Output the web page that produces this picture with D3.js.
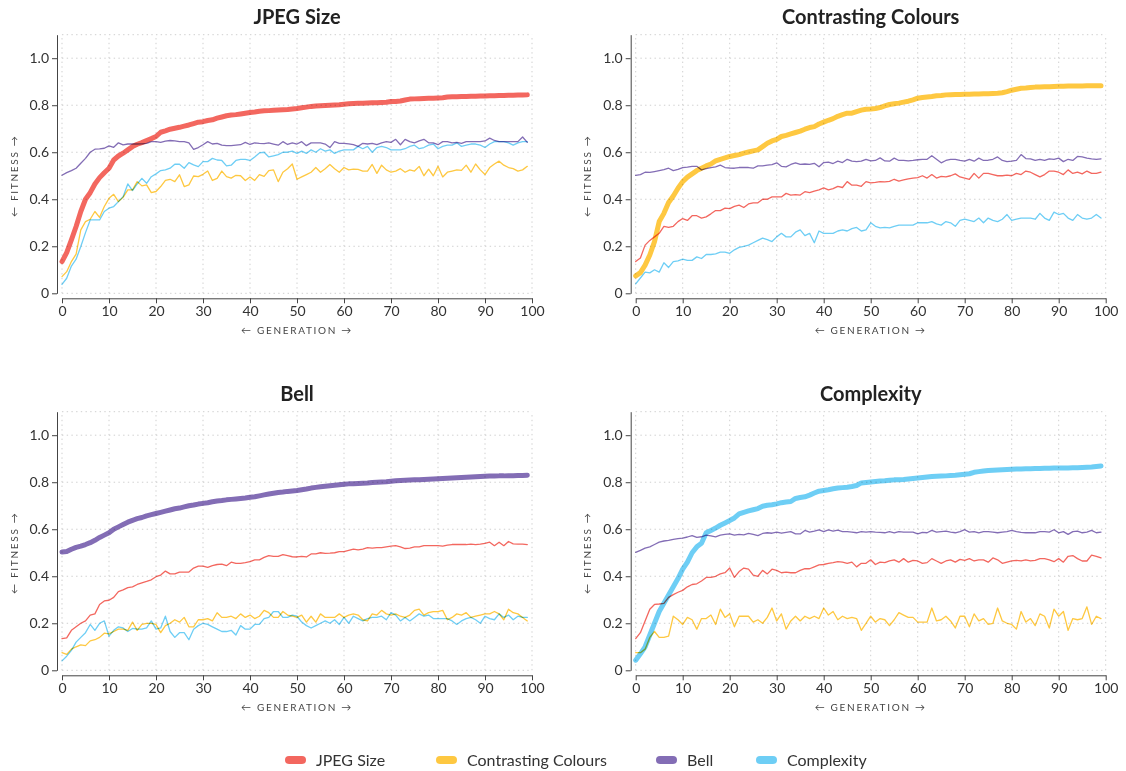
<!DOCTYPE html>
<html>
<head>
<meta charset="utf-8">
<script src="https://cdn.jsdelivr.net/npm/d3@7"></script>
<style>
  body { margin: 0; background: #fff; }
  svg { display: block; font-family: Lato, "Noto Sans", sans-serif; }
</style>
</head>
<body>
<svg id="chart" width="1126" height="771"></svg>
<script>
// Fitness per generation (0..99) for each of the four metrics, one panel per optimised objective.

// Run optimising JPEG Size
const jpegRunJpeg = [
  0.135,0.173,0.227,0.284,0.348,0.40,0.428,0.465,0.492,0.513,
  0.532,0.567,0.584,0.596,0.61,0.624,0.634,0.641,0.65,0.658,
  0.667,0.685,0.691,0.698,0.702,0.706,0.711,0.716,0.722,0.728,
  0.73,0.735,0.738,0.745,0.75,0.755,0.758,0.76,0.763,0.766,
  0.769,0.771,0.774,0.776,0.777,0.779,0.78,0.781,0.782,0.784,
  0.786,0.789,0.792,0.795,0.797,0.798,0.799,0.8,0.801,0.802,
  0.804,0.806,0.807,0.808,0.808,0.809,0.81,0.811,0.812,0.813,
  0.816,0.816,0.818,0.822,0.826,0.827,0.828,0.829,0.83,0.83,
  0.831,0.832,0.835,0.836,0.836,0.837,0.837,0.838,0.838,0.839,
  0.839,0.84,0.84,0.841,0.841,0.842,0.842,0.843,0.843,0.844
];
const jpegRunContrast = [
  0.071,0.092,0.135,0.167,0.27,0.305,0.315,0.348,0.323,0.369,
  0.404,0.421,0.39,0.408,0.44,0.44,0.475,0.457,0.461,0.428,
  0.433,0.454,0.48,0.485,0.475,0.504,0.454,0.461,0.499,0.496,
  0.506,0.52,0.48,0.489,0.52,0.496,0.49,0.502,0.5,0.48,
  0.495,0.48,0.505,0.497,0.522,0.525,0.475,0.515,0.53,0.55,
  0.485,0.495,0.505,0.515,0.535,0.515,0.53,0.548,0.53,0.515,
  0.535,0.525,0.528,0.527,0.52,0.52,0.548,0.51,0.545,0.525,
  0.515,0.52,0.53,0.515,0.525,0.52,0.54,0.5,0.528,0.5,
  0.54,0.495,0.515,0.52,0.525,0.523,0.545,0.515,0.55,0.525,
  0.505,0.535,0.55,0.562,0.545,0.535,0.53,0.52,0.525,0.54
];
const jpegRunBell = [
  0.502,0.513,0.522,0.532,0.553,0.574,0.6,0.613,0.614,0.617,
  0.627,0.621,0.64,0.631,0.635,0.635,0.635,0.636,0.638,0.645,
  0.645,0.642,0.647,0.65,0.648,0.645,0.645,0.64,0.612,0.62,
  0.632,0.645,0.635,0.638,0.63,0.628,0.628,0.63,0.632,0.642,
  0.633,0.64,0.638,0.637,0.64,0.635,0.63,0.645,0.633,0.64,
  0.635,0.645,0.628,0.64,0.64,0.64,0.635,0.62,0.645,0.638,
  0.638,0.636,0.632,0.625,0.638,0.635,0.638,0.632,0.64,0.645,
  0.642,0.655,0.632,0.655,0.645,0.64,0.648,0.655,0.64,0.64,
  0.632,0.645,0.645,0.64,0.642,0.638,0.645,0.645,0.645,0.645,
  0.648,0.66,0.65,0.645,0.645,0.645,0.645,0.645,0.665,0.642
];
const jpegRunComplexity = [
  0.038,0.064,0.116,0.145,0.199,0.258,0.312,0.312,0.312,0.348,
  0.362,0.369,0.39,0.411,0.465,0.437,0.465,0.489,0.468,0.496,
  0.508,0.522,0.525,0.532,0.549,0.549,0.532,0.556,0.546,0.539,
  0.56,0.56,0.574,0.567,0.565,0.542,0.545,0.565,0.57,0.57,
  0.565,0.58,0.597,0.6,0.58,0.585,0.59,0.6,0.6,0.605,
  0.595,0.605,0.595,0.61,0.6,0.615,0.605,0.61,0.595,0.605,
  0.61,0.61,0.61,0.625,0.615,0.625,0.6,0.62,0.625,0.62,
  0.61,0.61,0.61,0.615,0.625,0.63,0.615,0.62,0.63,0.635,
  0.615,0.625,0.63,0.63,0.64,0.625,0.63,0.635,0.635,0.63,
  0.62,0.635,0.645,0.645,0.645,0.64,0.63,0.64,0.645,0.645
];

// Run optimising Contrasting Colours
const contrastRunJpeg = [
  0.135,0.15,0.205,0.225,0.24,0.255,0.285,0.28,0.285,0.305,
  0.318,0.31,0.33,0.33,0.32,0.325,0.338,0.352,0.352,0.362,
  0.36,0.37,0.375,0.365,0.38,0.385,0.385,0.4,0.4,0.41,
  0.41,0.41,0.425,0.418,0.42,0.418,0.432,0.428,0.435,0.44,
  0.448,0.44,0.445,0.455,0.45,0.475,0.46,0.46,0.455,0.475,
  0.47,0.472,0.475,0.474,0.476,0.485,0.477,0.482,0.487,0.49,
  0.492,0.5,0.49,0.505,0.49,0.497,0.495,0.5,0.508,0.495,
  0.49,0.485,0.51,0.49,0.51,0.51,0.505,0.5,0.5,0.503,
  0.5,0.51,0.505,0.52,0.515,0.505,0.495,0.505,0.52,0.52,
  0.515,0.505,0.525,0.51,0.515,0.508,0.52,0.51,0.51,0.515
];
const contrastRunContrast = [
  0.074,0.088,0.12,0.163,0.22,0.305,0.34,0.386,0.414,0.447,
  0.475,0.494,0.508,0.522,0.532,0.542,0.55,0.563,0.57,0.576,
  0.582,0.586,0.59,0.596,0.601,0.606,0.61,0.624,0.638,0.648,
  0.655,0.667,0.672,0.678,0.684,0.69,0.698,0.705,0.709,0.72,
  0.728,0.736,0.743,0.753,0.76,0.766,0.766,0.773,0.779,0.783,
  0.784,0.786,0.79,0.797,0.803,0.806,0.809,0.813,0.817,0.823,
  0.83,0.833,0.835,0.837,0.84,0.841,0.844,0.845,0.846,0.846,
  0.847,0.847,0.848,0.848,0.849,0.849,0.85,0.851,0.853,0.858,
  0.864,0.868,0.872,0.873,0.875,0.877,0.878,0.879,0.879,0.88,
  0.881,0.881,0.882,0.882,0.882,0.882,0.883,0.883,0.883,0.883
];
const contrastRunBell = [
  0.502,0.505,0.515,0.514,0.518,0.522,0.526,0.532,0.522,0.527,
  0.535,0.537,0.54,0.54,0.525,0.53,0.535,0.538,0.545,0.535,
  0.533,0.532,0.535,0.536,0.535,0.532,0.542,0.542,0.545,0.547,
  0.555,0.54,0.538,0.548,0.555,0.548,0.55,0.548,0.553,0.538,
  0.556,0.558,0.552,0.562,0.556,0.57,0.562,0.56,0.562,0.57,
  0.563,0.565,0.576,0.563,0.562,0.575,0.565,0.565,0.563,0.565,
  0.568,0.57,0.57,0.585,0.57,0.555,0.565,0.57,0.57,0.565,
  0.562,0.57,0.562,0.575,0.565,0.566,0.57,0.58,0.565,0.56,
  0.562,0.565,0.59,0.573,0.572,0.565,0.57,0.565,0.572,0.57,
  0.575,0.56,0.57,0.565,0.582,0.58,0.575,0.572,0.57,0.572
];
const contrastRunComplexity = [
  0.04,0.065,0.09,0.087,0.1,0.09,0.13,0.11,0.135,0.138,
  0.145,0.14,0.14,0.155,0.148,0.165,0.165,0.168,0.175,0.175,
  0.17,0.185,0.195,0.2,0.205,0.215,0.225,0.235,0.228,0.22,
  0.24,0.255,0.24,0.24,0.26,0.27,0.245,0.255,0.215,0.265,
  0.255,0.255,0.255,0.265,0.27,0.265,0.275,0.28,0.265,0.27,
  0.3,0.285,0.278,0.28,0.278,0.285,0.29,0.29,0.29,0.29,
  0.3,0.3,0.3,0.305,0.295,0.29,0.305,0.3,0.285,0.31,
  0.315,0.31,0.305,0.32,0.3,0.32,0.31,0.305,0.315,0.335,
  0.31,0.315,0.32,0.32,0.32,0.315,0.34,0.32,0.31,0.345,
  0.335,0.34,0.32,0.31,0.335,0.32,0.315,0.32,0.335,0.32
];

// Run optimising Bell
const bellRunJpeg = [
  0.135,0.138,0.17,0.185,0.2,0.21,0.235,0.24,0.28,0.295,
  0.298,0.31,0.335,0.342,0.352,0.355,0.365,0.372,0.378,0.385,
  0.398,0.405,0.422,0.41,0.41,0.418,0.418,0.418,0.435,0.443,
  0.443,0.438,0.445,0.45,0.452,0.445,0.46,0.455,0.455,0.458,
  0.462,0.47,0.47,0.48,0.488,0.485,0.485,0.492,0.488,0.483,
  0.482,0.485,0.482,0.495,0.495,0.5,0.497,0.498,0.5,0.505,
  0.505,0.51,0.515,0.512,0.515,0.522,0.52,0.522,0.522,0.525,
  0.528,0.53,0.525,0.518,0.52,0.525,0.525,0.53,0.53,0.53,
  0.53,0.528,0.532,0.535,0.535,0.535,0.535,0.537,0.535,0.537,
  0.54,0.545,0.53,0.545,0.53,0.548,0.538,0.537,0.537,0.535
];
const bellRunContrast = [
  0.075,0.068,0.09,0.1,0.108,0.105,0.125,0.13,0.14,0.158,
  0.155,0.165,0.175,0.175,0.17,0.205,0.17,0.195,0.2,0.2,
  0.195,0.16,0.19,0.2,0.215,0.205,0.225,0.185,0.185,0.215,
  0.215,0.22,0.21,0.245,0.225,0.225,0.23,0.22,0.24,0.225,
  0.235,0.22,0.23,0.255,0.245,0.225,0.225,0.25,0.235,0.23,
  0.225,0.235,0.205,0.23,0.205,0.24,0.225,0.225,0.225,0.24,
  0.225,0.235,0.24,0.235,0.215,0.21,0.24,0.235,0.255,0.24,
  0.235,0.24,0.23,0.225,0.235,0.255,0.26,0.235,0.245,0.25,
  0.25,0.255,0.215,0.225,0.24,0.235,0.245,0.225,0.23,0.235,
  0.24,0.24,0.25,0.24,0.215,0.26,0.245,0.24,0.225,0.21
];
const bellRunBell = [
  0.503,0.505,0.515,0.523,0.528,0.535,0.543,0.553,0.565,0.575,
  0.585,0.6,0.61,0.62,0.63,0.638,0.645,0.65,0.657,0.662,
  0.667,0.672,0.677,0.682,0.687,0.69,0.695,0.7,0.703,0.707,
  0.71,0.713,0.717,0.72,0.722,0.725,0.727,0.729,0.731,0.733,
  0.736,0.738,0.742,0.746,0.75,0.753,0.756,0.758,0.761,0.763,
  0.765,0.768,0.771,0.775,0.778,0.781,0.783,0.785,0.787,0.789,
  0.791,0.793,0.794,0.795,0.796,0.797,0.799,0.8,0.801,0.802,
  0.804,0.806,0.807,0.808,0.809,0.81,0.811,0.812,0.813,0.814,
  0.815,0.816,0.817,0.818,0.819,0.82,0.821,0.822,0.823,0.824,
  0.825,0.826,0.826,0.827,0.827,0.828,0.828,0.829,0.829,0.83
];
const bellRunComplexity = [
  0.04,0.06,0.085,0.12,0.14,0.16,0.195,0.17,0.2,0.21,
  0.145,0.17,0.185,0.18,0.165,0.178,0.175,0.175,0.18,0.21,
  0.175,0.18,0.23,0.165,0.14,0.16,0.16,0.13,0.175,0.19,
  0.2,0.195,0.185,0.175,0.165,0.165,0.17,0.15,0.19,0.175,
  0.175,0.195,0.195,0.22,0.225,0.25,0.25,0.225,0.225,0.235,
  0.23,0.205,0.19,0.18,0.19,0.2,0.21,0.2,0.215,0.195,
  0.225,0.2,0.23,0.22,0.21,0.22,0.225,0.225,0.23,0.215,
  0.245,0.235,0.21,0.225,0.21,0.225,0.24,0.23,0.235,0.22,
  0.22,0.22,0.22,0.21,0.195,0.21,0.22,0.225,0.215,0.2,
  0.23,0.22,0.215,0.24,0.225,0.235,0.215,0.23,0.225,0.225
];

// Run optimising Complexity
const complexityRunJpeg = [
  0.135,0.16,0.21,0.26,0.28,0.282,0.285,0.31,0.322,0.332,
  0.34,0.355,0.365,0.368,0.38,0.395,0.395,0.4,0.41,0.415,
  0.435,0.395,0.42,0.435,0.43,0.405,0.4,0.425,0.41,0.43,
  0.425,0.415,0.418,0.415,0.415,0.425,0.432,0.432,0.44,0.448,
  0.45,0.455,0.458,0.462,0.46,0.455,0.46,0.44,0.455,0.455,
  0.47,0.45,0.46,0.458,0.465,0.47,0.46,0.475,0.46,0.468,
  0.465,0.455,0.458,0.475,0.465,0.455,0.465,0.47,0.46,0.472,
  0.468,0.475,0.465,0.47,0.47,0.46,0.478,0.47,0.455,0.46,
  0.465,0.468,0.465,0.47,0.465,0.468,0.475,0.475,0.47,0.462,
  0.475,0.46,0.485,0.488,0.475,0.465,0.465,0.49,0.485,0.478
];
const complexityRunContrast = [
  0.075,0.075,0.09,0.14,0.165,0.14,0.14,0.145,0.23,0.215,
  0.195,0.225,0.215,0.175,0.22,0.22,0.235,0.195,0.26,0.225,
  0.24,0.185,0.23,0.23,0.23,0.205,0.215,0.2,0.225,0.265,
  0.21,0.24,0.175,0.21,0.23,0.21,0.23,0.22,0.23,0.22,
  0.265,0.235,0.25,0.215,0.23,0.22,0.225,0.22,0.17,0.2,
  0.23,0.205,0.22,0.215,0.19,0.215,0.245,0.235,0.225,0.225,
  0.205,0.205,0.205,0.265,0.21,0.215,0.23,0.21,0.18,0.23,
  0.23,0.185,0.24,0.21,0.22,0.195,0.2,0.265,0.21,0.2,
  0.195,0.175,0.25,0.205,0.22,0.19,0.24,0.23,0.18,0.26,
  0.23,0.25,0.17,0.22,0.215,0.22,0.27,0.195,0.23,0.22
];
const complexityRunBell = [
  0.502,0.51,0.52,0.525,0.535,0.545,0.55,0.553,0.557,0.56,
  0.562,0.567,0.573,0.565,0.568,0.575,0.572,0.568,0.575,0.578,
  0.58,0.575,0.578,0.576,0.582,0.578,0.573,0.582,0.585,0.583,
  0.588,0.583,0.587,0.59,0.58,0.58,0.595,0.588,0.592,0.597,
  0.59,0.597,0.592,0.596,0.59,0.59,0.588,0.585,0.59,0.588,
  0.59,0.588,0.587,0.585,0.59,0.585,0.59,0.588,0.588,0.588,
  0.58,0.587,0.585,0.595,0.588,0.59,0.592,0.588,0.585,0.59,
  0.598,0.588,0.59,0.585,0.59,0.59,0.588,0.585,0.588,0.59,
  0.595,0.59,0.587,0.585,0.585,0.585,0.59,0.59,0.588,0.598,
  0.585,0.59,0.578,0.59,0.592,0.585,0.588,0.595,0.585,0.588
];
const complexityRunComplexity = [
  0.043,0.07,0.1,0.15,0.2,0.25,0.285,0.32,0.355,0.39,
  0.43,0.46,0.5,0.525,0.54,0.585,0.595,0.605,0.617,0.627,
  0.637,0.648,0.665,0.672,0.678,0.683,0.688,0.698,0.702,0.704,
  0.708,0.713,0.716,0.718,0.731,0.735,0.738,0.745,0.754,0.762,
  0.765,0.768,0.772,0.775,0.777,0.779,0.782,0.786,0.797,0.799,
  0.801,0.803,0.805,0.806,0.808,0.81,0.811,0.812,0.814,0.816,
  0.818,0.82,0.822,0.824,0.825,0.826,0.827,0.829,0.83,0.832,
  0.834,0.836,0.842,0.845,0.848,0.85,0.851,0.852,0.853,0.854,
  0.855,0.856,0.856,0.857,0.857,0.858,0.858,0.859,0.859,0.86,
  0.86,0.861,0.861,0.862,0.862,0.863,0.864,0.865,0.867,0.869
];

const metricNames = ["JPEG Size", "Contrasting Colours", "Bell", "Complexity"];
const metricColors = ["#f3675f", "#fec841", "#836db5", "#6ecef5"];
const xTickValues = [0, 10, 20, 30, 40, 50, 60, 70, 80, 90, 100];
const yTickValues = [0, 0.2, 0.4, 0.6, 0.8, 1.0];
const yMax = 1.1;

const runs = [
  { title: "JPEG Size", target: 0, series: [jpegRunJpeg, jpegRunContrast, jpegRunBell, jpegRunComplexity] },
  { title: "Contrasting Colours", target: 1, series: [contrastRunJpeg, contrastRunContrast, contrastRunBell, contrastRunComplexity] },
  { title: "Bell", target: 2, series: [bellRunJpeg, bellRunContrast, bellRunBell, bellRunComplexity] },
  { title: "Complexity", target: 3, series: [complexityRunJpeg, complexityRunContrast, complexityRunBell, complexityRunComplexity] }
];

const svg = d3.select("#chart");

// Panel frames: left edge of the plotting area and the baseline (fitness 0)
const panelLeft = [62, 635.7];
const panelBase = [293.3, 670.3];
const plotWidth = 470;
const unitHeight = 235.1;

runs.forEach((run, k) => {
  const col = k % 2, row = Math.floor(k / 2);
  const x0 = panelLeft[col], yBase = panelBase[row];
  const x = d3.scaleLinear().domain([0, 100]).range([x0, x0 + plotWidth]);
  const y = d3.scaleLinear().domain([0, yMax]).range([yBase, yBase - unitHeight * yMax]);
  const g = svg.append("g");

  // dotted grid
  const grid = g.append("g").attr("stroke", "#cfcfcf").attr("stroke-width", 1)
    .attr("stroke-dasharray", "1.4,3.3").attr("fill", "none");
  grid.selectAll("line.v").data(xTickValues).join("line").attr("class", "v")
    .attr("x1", d => x(d)).attr("x2", d => x(d)).attr("y1", y(0)).attr("y2", y(yMax));
  grid.selectAll("line.h").data(yTickValues.concat([yMax])).join("line").attr("class", "h")
    .attr("y1", d => y(d)).attr("y2", d => y(d)).attr("x1", x(0)).attr("x2", x(100));

  // axes
  const yAxis = g.append("g").attr("transform", `translate(${x0 - 5},0)`)
    .call(d3.axisLeft(y).tickValues(yTickValues).tickSize(5).tickSizeOuter(0).tickPadding(3)
      .tickFormat(d => d === 0 ? "0" : d.toFixed(1)));
  const xAxis = g.append("g").attr("transform", `translate(0,${yBase + 5})`)
    .call(d3.axisBottom(x).tickValues(xTickValues).tickSize(5).tickSizeOuter(0).tickPadding(3));
  [yAxis, xAxis].forEach(a => {
    a.selectAll("path.domain").attr("stroke", "#444");
    a.selectAll(".tick line").attr("stroke", "#444");
    a.selectAll(".tick text").attr("fill", "#333").style("font-size", "14px")
      .style("font-family", "Lato, 'Noto Sans', sans-serif");
  });

  // axis labels
  g.append("text")
    .attr("x", x(50)).attr("y", yBase + 40.5)
    .attr("text-anchor", "middle")
    .attr("fill", "#444").style("font-size", "10px").style("letter-spacing", "1.7px")
    .text("← GENERATION →");
  g.append("text")
    .attr("transform", `translate(${x0 - 48},${y(0.5)}) rotate(-90)`)
    .attr("text-anchor", "middle").attr("dy", "0.35em")
    .attr("fill", "#444").style("font-size", "10px").style("letter-spacing", "1.7px")
    .text("← FITNESS →");

  // title
  g.append("text")
    .attr("x", x(50)).attr("y", yBase - 269.5)
    .attr("text-anchor", "middle")
    .attr("fill", "#222").style("font-size", "20px").style("font-weight", "700")
    .text(run.title);

  // series lines: the optimised metric drawn thick and on top
  const line = d3.line().x((d, i) => x(i)).y(d => y(d));
  const order = [0, 1, 2, 3].filter(m => m !== run.target).concat([run.target]);
  order.forEach(m => {
    const thick = m === run.target;
    g.append("path")
      .datum(run.series[m])
      .attr("d", line)
      .attr("fill", "none")
      .attr("stroke", metricColors[m])
      .attr("stroke-width", thick ? 5 : 1.3)
      .attr("stroke-linejoin", "round")
      .attr("stroke-linecap", "round")
      .style("mix-blend-mode", "multiply");
  });
});

// legend
const legendX = [285, 436, 656, 756];
const legend = svg.append("g");
metricNames.forEach((name, m) => {
  const lx = legendX[m];
  legend.append("line")
    .attr("x1", lx + 4).attr("x2", lx + 17).attr("y1", 760).attr("y2", 760)
    .attr("stroke", metricColors[m]).attr("stroke-width", 8).attr("stroke-linecap", "round");
  legend.append("text")
    .attr("x", lx + 31).attr("y", 760).attr("dy", "0.35em")
    .attr("fill", "#333").style("font-size", "16px")
    .text(name);
});
</script>
</body>
</html>
